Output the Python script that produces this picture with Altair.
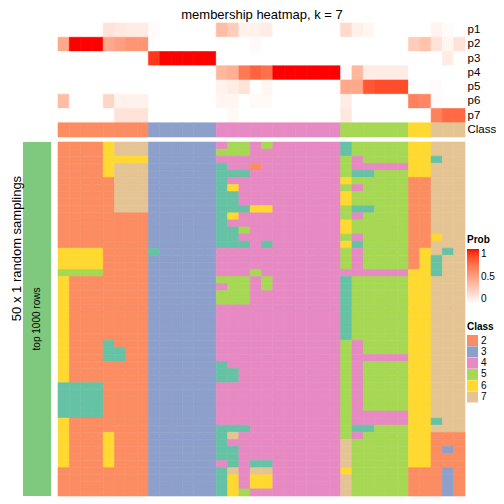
import altair as alt
import pandas as pd

# ---------------- data ----------------
prob_rows = ["p1", "p2", "p3", "p4", "p5", "p6", "p7"]

# membership probabilities per sample column (36 columns)
p1 = [0, 0, 0, 0, 0.15, 0.12, 0.1, 0.1,
      0.02, 0, 0, 0, 0, 0,
      0.35, 0.27, 0.07, 0.07, 0.1, 0, 0, 0, 0, 0, 0,
      0.2, 0.08, 0.05, 0, 0, 0,
      0, 0,
      0.06, 0.02, 0]
p2 = [0.45, 1, 1, 1, 0.45, 0.5, 0.55, 0.55,
      0, 0, 0, 0, 0, 0,
      0, 0, 0, 0.03, 0, 0, 0, 0, 0, 0, 0,
      0, 0, 0, 0, 0, 0,
      0.27, 0.32,
      0.15, 0.05, 0.15]
p3 = [0, 0, 0, 0, 0, 0, 0, 0,
      0.92, 1, 1, 1, 1, 1,
      0, 0, 0, 0, 0, 0, 0, 0, 0, 0, 0,
      0, 0, 0, 0, 0, 0,
      0, 0,
      0, 0.1, 0]
p4 = [0, 0, 0, 0, 0, 0, 0, 0,
      0, 0, 0, 0, 0, 0,
      0.38, 0.42, 0.68, 0.78, 0.72, 1, 1, 1, 1, 1, 1,
      0.02, 0.38, 0.1, 0.1, 0.1, 0.1,
      0, 0,
      0, 0, 0]
p5 = [0, 0, 0, 0, 0, 0, 0, 0,
      0, 0, 0, 0, 0, 0,
      0.07, 0.1, 0.15, 0, 0.05, 0, 0, 0, 0, 0, 0,
      0.45, 0.45, 0.82, 0.86, 0.86, 0.86,
      0, 0,
      0.02, 0, 0]
p6 = [0.35, 0, 0, 0, 0.22, 0.07, 0.07, 0.07,
      0, 0, 0, 0, 0, 0,
      0.05, 0.05, 0, 0.03, 0.03, 0, 0, 0, 0, 0, 0,
      0.1, 0, 0, 0, 0, 0,
      0.65, 0.62,
      0.02, 0, 0]
p7 = [0, 0, 0, 0, 0, 0.15, 0.15, 0.15,
      0, 0, 0, 0, 0, 0,
      0, 0.03, 0, 0, 0, 0, 0, 0, 0, 0, 0,
      0.13, 0, 0, 0, 0, 0,
      0, 0,
      0.65, 0.75, 0.75]
prob_values = [p1, p2, p3, p4, p5, p6, p7]

# consensus class of each column
sample_class = [2, 2, 2, 2, 2, 2, 2, 2,
                3, 3, 3, 3, 3, 3,
                4, 4, 4, 4, 4, 4, 4, 4, 4, 4, 4,
                5, 5, 5, 5, 5, 5,
                6, 6,
                7, 7, 7]

# class of each column in each of the 50 random samplings
samplings = [
    "22226777 333333 45545444444 155555 66 777",
    "22226777 333333 55544444444 155555 66 777",
    "22226666 333333 44444444444 545555 66 177",
    "22226777 333333 14424444444 544444 66 777",
    "22226777 333333 11144444444 511555 66 777",
    "22222777 333333 14444444444 655555 22 777",
    "22222777 333333 16444444444 545555 22 777",
    "22222777 333333 11444444444 655555 22 777",
    "22222777 333333 11444444444 655555 22 777",
    "22222777 333333 11166444444 511555 22 777",
    "22222222 333333 16444444444 545555 22 777",
    "22222222 333333 14444444444 655555 22 777",
    "22222222 333333 11544444444 655555 22 777",
    "22222222 333333 11444444444 545555 22 677",
    "22222222 333333 11141444444 615555 22 777",
    "66662222 133333 44444444444 545555 26 717",
    "66662222 333333 44444444444 545555 26 177",
    "66662222 333333 44444444444 545555 26 177",
    "55552222 333333 44454444444 444444 66 177",
    "62222222 333333 55545444444 155555 66 777",
    "62222222 333333 45545444444 155555 66 777",
    "62222222 333333 55544444444 155555 66 777",
    "62222222 333333 55544444444 155555 66 777",
    "62222222 333333 44444444444 155555 66 777",
    "62222222 333333 44444444444 155555 66 777",
    "62222222 333333 44444444444 155555 66 777",
    "62222222 333333 44444444444 155555 66 777",
    "62222222 333333 44444444444 155555 66 777",
    "62221222 333333 44444444444 545555 66 777",
    "62221122 333333 44444444444 545555 66 777",
    "62221122 333333 44444444444 544444 66 777",
    "62222222 333333 14444444444 545555 66 777",
    "62222222 333333 11444444444 545555 66 777",
    "62222222 333333 11444444444 545555 66 777",
    "11112222 333333 44444444444 545555 66 777",
    "11112222 333333 44444444444 545555 66 777",
    "11112222 333333 44444444444 545555 66 777",
    "11112222 333333 44444444444 545555 66 777",
    "11112222 333333 44444444444 544444 66 777",
    "62222222 333333 44444444444 544444 66 177",
    "62222222 333333 11144444444 511555 66 777",
    "62226222 333333 17444444444 545555 66 222",
    "62226222 333333 14444444444 755555 66 222",
    "62226222 333333 11444444444 755555 66 232",
    "62226222 333333 11444444444 755555 66 222",
    "62226222 333333 41411444444 755555 66 222",
    "22222222 333333 17477444444 655555 22 232",
    "22222222 333333 16466444444 755555 22 232",
    "22222222 333333 16466444444 755555 22 232",
    "22222222 333333 16544444444 755555 22 232",
]

class_names = ["1", "2", "3", "4", "5", "6", "7"]
class_colors = ["#66C2A5", "#FC8D62", "#8DA0CB", "#E78AC3", "#A6D854", "#FFD92F", "#E5C494"]
legend_classes = ["2", "3", "4", "5", "6", "7"]

# ---------------- tables ----------------
n_cols = len(sample_class)
top_df = pd.DataFrame([
    {"col": c, "row": name, "prob": vals[c]}
    for name, vals in zip(prob_rows, prob_values) for c in range(n_cols)
])
class_df = pd.DataFrame([
    {"col": c, "row": "Class", "cls": str(sample_class[c])} for c in range(n_cols)
])
bottom_df = pd.DataFrame([
    {"col": c, "rep": r, "cls": ch}
    for r, s in enumerate(samplings) for c, ch in enumerate(s.replace(" ", ""))
])
bar_df = pd.DataFrame({"lab": ["top 1000 rows"]})

# ---------------- encodings ----------------
band = alt.Scale(type="band", paddingInner=0, paddingOuter=0)
x_enc = alt.X("col:O", axis=None, scale=band)
x_top = alt.X("col:O", scale=band,
              axis=alt.Axis(orient="top", title="membership heatmap, k = 7", labels=False,
                            ticks=False, domain=False, minExtent=0, titlePadding=2,
                            titleFontSize=13, titleFontWeight="normal", titleColor="black"))

class_scale = alt.Scale(domain=class_names, range=class_colors)
fill_enc = alt.Fill(
    "cls:N",
    scale=class_scale,
    legend=alt.Legend(
        title="Class", orient="none", legendX=444, legendY=299, values=legend_classes,
        symbolType="square", symbolSize=121, symbolStrokeWidth=0, rowPadding=0.3,
        labelOffset=3, titleFontSize=10, labelFontSize=10, titlePadding=3, padding=0,
    ),
)
stroke_enc = alt.Stroke("cls:N", scale=class_scale, legend=None)

y_top = alt.Y(
    "row:N",
    scale=alt.Scale(type="band", domain=prob_rows + ["Class"], paddingInner=0, paddingOuter=0),
    axis=alt.Axis(orient="right", title=None, ticks=False, domain=False,
                  labelFontSize=11.5, labelPadding=2, labelColor="black"),
)

prob_scale = alt.Scale(domain=[0, 1], range=["#FFFFFF", "#FF0000"], interpolate="lab")
prob_layer = alt.Chart(top_df).mark_rect(strokeWidth=0.6).encode(
    x=x_top,
    y=y_top,
    color=alt.Color(
        "prob:Q",
        scale=prob_scale,
        legend=alt.Legend(
            title="Prob", orient="none", legendX=444, legendY=212, values=[0, 0.5, 1],
            format="~g", gradientLength=55, gradientThickness=12, gradientStrokeWidth=0,
            titleFontSize=10, labelFontSize=10, labelOffset=2, titlePadding=4, padding=0,
            direction="vertical",
        ),
    ),
    stroke=alt.Stroke("prob:Q", scale=prob_scale, legend=None),
)
class_layer = alt.Chart(class_df).mark_rect(strokeWidth=0.6).encode(
    x=x_top, y=y_top, fill=fill_enc, stroke=stroke_enc)

top = alt.layer(prob_layer, class_layer).properties(width=407, height=114)

bottom = alt.Chart(bottom_df).mark_rect(strokeWidth=0.6).encode(
    x=x_enc,
    y=alt.Y("rep:O", axis=None, scale=band),
    fill=fill_enc,
    stroke=stroke_enc,
).properties(width=407, height=354)

bar_x = alt.X("lab:N", axis=None, scale=band)
bar_y = alt.Y("lab:N", scale=band,
              axis=alt.Axis(title="50 x 1 random samplings", labels=False, ticks=False,
                            domain=False, minExtent=0, titlePadding=0, titleFontSize=13,
                            titleFontWeight="normal", titleColor="black", titleY=106))
leftbar = alt.layer(
    alt.Chart(bar_df).mark_rect(color="#7FC97F").encode(x=bar_x, y=bar_y),
    alt.Chart(bar_df).mark_text(angle=270, fontSize=10, color="black").encode(
        x=bar_x, y=bar_y, text="lab:N"),
).properties(width=28, height=354)

placeholder = alt.Chart(bar_df).mark_text(text="").encode(
    x=alt.value(0), y=alt.value(0)).properties(width=1, height=1)

chart = alt.concat(
    placeholder, top, leftbar, bottom,
    columns=2, align="each", spacing={"row": 3, "column": 6},
).properties(
    padding={"left": 2, "top": 0, "right": 0, "bottom": 0}
).configure(font="Liberation Sans").configure_view(strokeWidth=0)

chart.save("out.html", embed_options={"renderer": "svg", "actions": False})
